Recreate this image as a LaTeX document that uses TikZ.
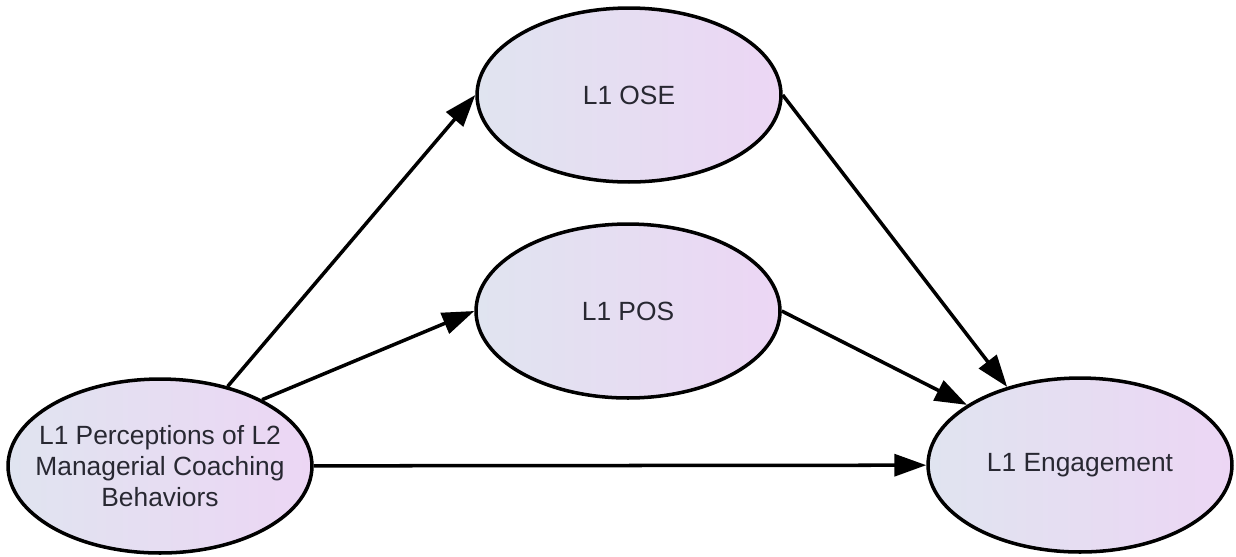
\documentclass[tikz,border=0pt]{standalone}
\usepackage{fontspec}
\setmainfont{Liberation Sans}
\usetikzlibrary{shapes.geometric,arrows.meta}

\definecolor{fillL}{RGB}{224,228,240}
\definecolor{fillR}{RGB}{236,214,244}
\definecolor{ink}{RGB}{40,40,50}

\tikzset{
    latent/.style={ellipse, draw=black, line width=2pt,
        left color=fillL, right color=fillR,
        minimum width=6.08cm, minimum height=3.48cm, inner sep=0pt,
        text=ink, font=\fontsize{15}{17.5}\selectfont},
    path/.style={-{Triangle[length=6.4mm,width=4.4mm]}, line width=2pt}
}

\begin{document}
\begin{tikzpicture}[x=0.02cm, y=-0.02cm]
    \useasboundingbox (0,0) rectangle (1236,556);

    % 潜变量
    \node[latent] (perc) at (160, 466) {};
    \node[text=ink, align=center, font=\fontsize{15}{17.5}\selectfont] (perctxt) at (perc)
        {L1 Perceptions of L2\\Managerial Coaching\\Behaviors};
    \node[latent] (ose) at (629, 95) {L1 OSE};
    \node[latent] (pos) at (628, 311) {L1 POS};
    \node[latent] (eng) at (1080, 465) {L1 Engagement};

    % 路径
    \draw[path] (perc) -- (ose.west);
    \draw[path] (perc.33) -- (pos.west);
    \draw[path] (perc) -- (eng);
    \draw[path] (ose.east) -- (eng.133);
    \draw[path] (pos.east) -- (eng.152);
\end{tikzpicture}
\end{document}
